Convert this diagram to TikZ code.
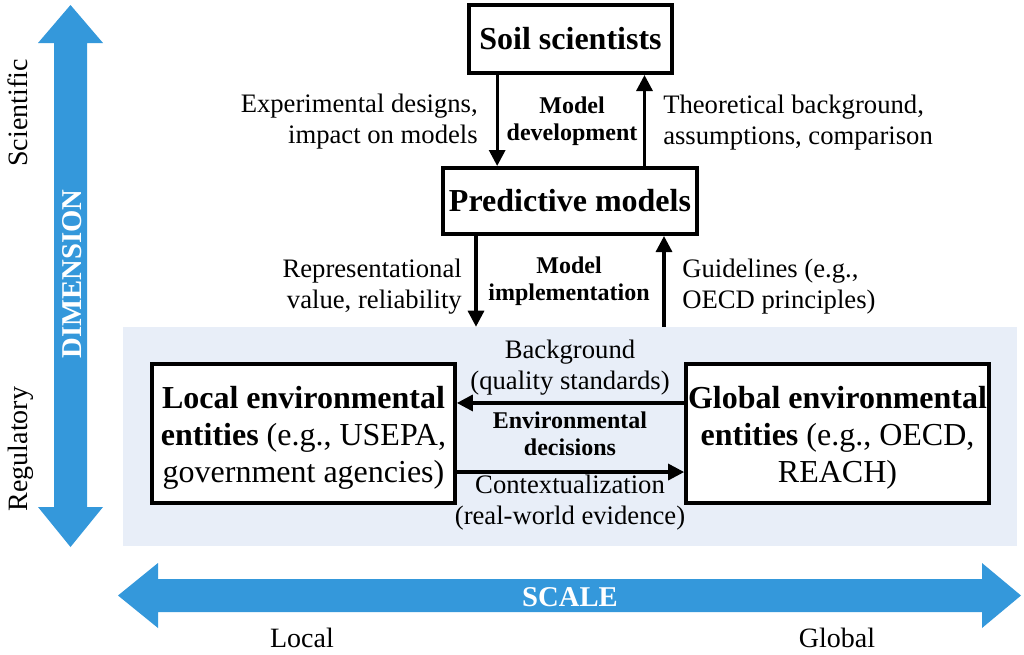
\documentclass[tikz,border=0pt]{standalone}
\usepackage{fontspec}
\setmainfont{Liberation Serif}
\usetikzlibrary{arrows.meta,calc}
\definecolor{bigblue}{HTML}{3498DB}
\definecolor{bgblue}{HTML}{E8EEF8}
\newcommand{\mytab}[2]{\begin{tabular}[t]{@{}#1@{}}#2\end{tabular}}
\newcommand{\boxtext}[1]{\raisebox{-3.5pt}[\height][\depth]{\begin{tabular}{@{}c@{}}#1\end{tabular}}}
\begin{document}
\begin{tikzpicture}[x=0.75pt,y=-0.75pt,
  box/.style={draw=black,line width=3pt,fill=white,inner sep=0pt,align=center,
    font=\fontsize{24}{28}\selectfont},
  arr/.style={line width=2.4pt,-{Triangle[length=12pt,width=12pt]}},
  lab/.style={inner sep=0pt,font=\fontsize{20}{23.5}\selectfont},
  blab/.style={inner sep=0pt,font=\fontsize{18}{20.5}\selectfont\bfseries},
  axlab/.style={inner sep=0pt,font=\fontsize{21}{24}\selectfont},
  axtitle/.style={inner sep=0pt,text=white,font=\fontsize{21.5}{24}\selectfont\bfseries}]
\useasboundingbox (0,0) rectangle (1024,654);
\fill[white] (0,0) rectangle (1024,654);
% background region
\node[fill=bgblue,inner sep=0pt,minimum width=670.5pt,minimum height=164.25pt] (bg) at (570,436.5) {};
% axis arrows
\fill[bigblue] (70.5,5) -- (103,43) -- (87,43) -- (87,507) -- (103,507) -- (70.5,547)
  -- (38,507) -- (54,507) -- (54,43) -- (38,43) -- cycle;
\fill[bigblue] (118,595.5) -- (158,563) -- (158,579) -- (982,579) -- (982,563) -- (1021,595.5)
  -- (982,628) -- (982,612) -- (158,612) -- (158,628) -- cycle;
\node[axtitle,rotate=90,anchor=base] (dim) at (81,274) {DIMENSION};
\node[axtitle,anchor=base] (scale) at (570,606) {SCALE};
\node[axlab,rotate=90,anchor=base] (sci) at (27,113) {Scientific};
\node[axlab,rotate=90,anchor=base] (reg) at (27,449) {Regulatory};
\node[axlab,anchor=base] (loclab) at (302,647) {Local};
\node[axlab,anchor=base] (globlab) at (837,647) {Global};
% boxes
\node[box,minimum width=152pt,minimum height=51pt] (soil) at (570.5,39) {\bfseries Soil scientists};
\node[box,minimum width=190.5pt,minimum height=49.5pt] (pred) at (570,201) {\bfseries Predictive models};
\node[box,minimum width=227pt,minimum height=104pt] (loc) at (303.5,433.5)
  {\boxtext{\textbf{Local environmental}\\\textbf{entities} (e.g., USEPA,\\government agencies)}};
\node[box,minimum width=227pt,minimum height=104pt] (glob) at (837.5,433.5)
  {\boxtext{\textbf{Global environmental}\\\textbf{entities} (e.g., OECD,\\REACH)}};
% connectors
\draw[arr] ([xshift=-55pt]soil.south) -- ([xshift=-55pt]soil.south |- pred.north);
\draw[arr] ([xshift=55.5pt]soil.south |- pred.north) -- ([xshift=55.5pt]soil.south);
\draw[arr] ([xshift=-70.5pt]pred.south) -- ([xshift=-70.5pt]pred.south |- bg.north);
\draw[arr] ([xshift=70.5pt]pred.south |- bg.north) -- ([xshift=70.5pt]pred.south);
\draw[arr] ([yshift=22.9pt]glob.west) -- ([yshift=22.9pt]glob.west -| loc.east);
\draw[arr] ([yshift=-28.9pt]loc.east) -- ([yshift=-28.9pt]loc.east -| glob.west);
% labels
\node[lab,anchor=base east] (l1) at (478,112) {\mytab{r}{Experimental designs,\\impact on models}};
\node[blab,anchor=base] (l2) at (572,113) {\mytab{c}{Model\\development}};
\node[lab,anchor=base west] (l3) at (663,113) {\mytab{l}{Theoretical background,\\assumptions, comparison}};
\node[lab,anchor=base east] (l4) at (462,277) {\mytab{r}{Representational\\value, reliability}};
\node[blab,anchor=base] (l5) at (569,273) {\mytab{c}{Model\\implementation}};
\node[lab,anchor=base west] (l6) at (682,277) {\mytab{l}{Guidelines (e.g.,\\OECD principles)}};
\node[lab,anchor=base] (l7) at (570,358) {\mytab{c}{Background\\(quality standards)}};
\node[blab,anchor=base] (l8) at (570,428) {\mytab{c}{Environmental\\decisions}};
\node[lab,anchor=base] (l9) at (570,493) {\mytab{c}{Contextualization\\(real-world evidence)}};
\end{tikzpicture}
\end{document}
